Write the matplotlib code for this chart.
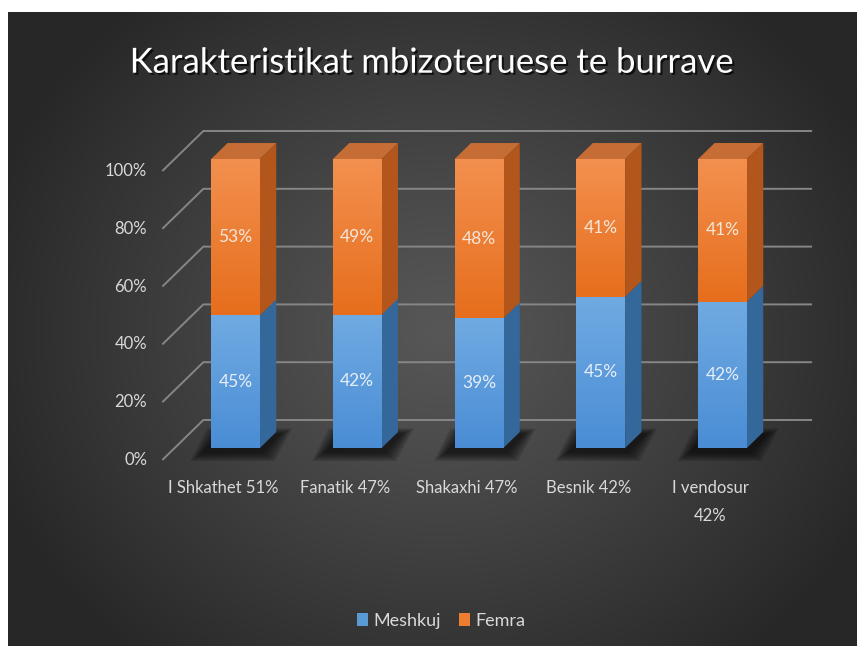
import numpy as np
import matplotlib.pyplot as plt
from matplotlib.patches import Polygon, Patch
from matplotlib.colors import to_rgb
import matplotlib.patheffects as pe

plt.rcParams['font.family'] = ['Lato', 'DejaVu Sans']

# data
categories = ["I Shkathet 51%", "Fanatik 47%", "Shakaxhi 47%", "Besnik 42%", "I vendosur\n42%"]
meshkuj = np.array([45, 42, 39, 45, 42])
femra = np.array([53, 49, 48, 41, 41])
yticks = [0, 0.2, 0.4, 0.6, 0.8, 1.0]
ytick_labels = ["0%", "20%", "40%", "60%", "80%", "100%"]
series_names = ["Meshkuj", "Femra"]

total = meshkuj + femra
blue_h = meshkuj / total
orange_h = femra / total
x = np.arange(len(categories))

W, H = 857, 646
fig = plt.figure(figsize=(W / 100, H / 100), dpi=100, facecolor="white")
ax = fig.add_axes([8 / W, 0, (W - 8) / W, (H - 12) / H])
x_lo, x_hi = -1.8686, 5.1047
y_lo, y_hi = -0.6851, 1.5087
ax.axis("off")


def lerp(c1, c2, t):
    c1, c2 = np.array(to_rgb(c1)), np.array(to_rgb(c2))
    t = np.asarray(t)[..., None]
    return c1 * (1 - t) + c2 * t


# radial background
gx, gy = np.meshgrid(np.linspace(0, 1, 300), np.linspace(0, 1, 240))
px = 8 + gx * (W - 8)
py = 12 + (1 - gy) * (H - 12)
r = np.sqrt(((px - 440) / 480) ** 2 + ((py - 330) / 430) ** 2)
bg = lerp("#575757", "#272727", np.clip(r, 0, 1) ** 1.1)
ax.imshow(bg, extent=(x_lo, x_hi, y_lo, y_hi), origin="lower", aspect="auto",
          zorder=0, interpolation="bilinear")

# oblique depth
DX, DY = 0.3368, 0.1384
bar_w = 0.4
f_front, f_back = 0.3, 0.7


def off(d):
    return (d - f_front) * DX, (d - f_front) * DY


fx, fy = off(0)
bx, by = off(1)
ox, oy = (f_back - f_front) * DX, (f_back - f_front) * DY

# walls / gridlines
for v, lab in zip(yticks, ytick_labels):
    ax.plot([-0.5 + fx, -0.5 + bx, 4.5 + bx], [v + fy, v + by, v + by],
            color="#868686", lw=1.4, zorder=1, solid_capstyle="butt")
    ax.text(-0.5 + fx - 0.125, v + fy, lab, ha="right", va="center",
            color="#d9d9d9", fontsize=12, zorder=5)

# shadows
for i in x:
    for k in range(6):
        m = 0.02 + k * 0.018
        pts = [(i - bar_w / 2 - 0.06 - m, -0.012 - m * 0.3),
               (i + bar_w / 2 + 0.01 + m, -0.012 - m * 0.3),
               (i + bar_w / 2 + ox + 0.02 + m, oy - 0.01 + m * 0.2),
               (i - bar_w / 2 + ox - 0.06 - m, oy - 0.01 + m * 0.2)]
        ax.add_patch(Polygon(pts, closed=True, facecolor="black", edgecolor="none",
                             alpha=0.14, zorder=2))

# bars
blue_bars = ax.bar(x, blue_h, width=bar_w, color="#5b9bd5", zorder=3)
orange_bars = ax.bar(x, orange_h, width=bar_w, bottom=blue_h, color="#ed7d31", zorder=3)

grad_n = 100
for bars, c_top, c_bot in [(blue_bars, "#70aae2", "#4a8dd5"),
                           (orange_bars, "#f3904f", "#e66e1c")]:
    for b in bars:
        x0, y0 = b.get_x(), b.get_y()
        w, h = b.get_width(), b.get_height()
        g = lerp(c_bot, c_top, np.linspace(0, 1, grad_n))[:, None, :]
        im = ax.imshow(g, extent=(x0, x0 + w, y0, y0 + h), origin="lower",
                       aspect="auto", zorder=3.1, interpolation="bilinear")
        im.set_clip_path(b)

# side and top faces
for i in x:
    xr = i + bar_w / 2
    for y0, h, c in [(0, blue_h[i], "#35689a"), (blue_h[i], orange_h[i], "#b2561b")]:
        ax.add_patch(Polygon([(xr, y0), (xr + ox, y0 + oy), (xr + ox, y0 + h + oy), (xr, y0 + h)],
                             closed=True, facecolor=c, edgecolor="none", zorder=3))
    top = blue_h[i] + orange_h[i]
    ax.add_patch(Polygon([(i - bar_w / 2, top), (xr, top), (xr + ox, top + oy),
                          (i - bar_w / 2 + ox, top + oy)],
                         closed=True, facecolor="#c66c35", edgecolor="none", zorder=3))

# values inside bars
for i in x:
    ax.text(i, blue_h[i] / 2, f"{meshkuj[i]}%", ha="center", va="center",
            color="#e6eef8", fontsize=12.5, zorder=5)
    ax.text(i, blue_h[i] + orange_h[i] / 2, f"{femra[i]}%", ha="center", va="center",
            color="#f6e6da", fontsize=12.5, zorder=5)

# category labels
for i, lab in zip(x, categories):
    ax.text(i + fx, -0.11, lab, ha="center", va="top", color="#d9d9d9",
            fontsize=12, linespacing=1.95, zorder=5)

# title
ax.text(0.5, 0.92, "Karakteristikat mbizoteruese te burrave", transform=ax.transAxes,
        ha="center", va="center", color="white", fontsize=25, zorder=6,
        path_effects=[pe.SimplePatchShadow(offset=(1.5, -1.5), shadow_rgbFace="black", alpha=0.7),
                      pe.Normal()])

# legend
handles = [Patch(facecolor="#5b9bd5"), Patch(facecolor="#ed7d31")]
leg = ax.legend(handles, series_names, loc="center", bbox_to_anchor=(0.51, 0.04),
                ncol=2, frameon=False, fontsize=13, labelcolor="#d9d9d9",
                handlelength=0.6, handleheight=0.8, handletextpad=0.3, columnspacing=1.0)

ax.set_xlim(x_lo, x_hi)
ax.set_ylim(y_lo, y_hi)
fig.savefig("out.png", dpi=100, facecolor="white")
